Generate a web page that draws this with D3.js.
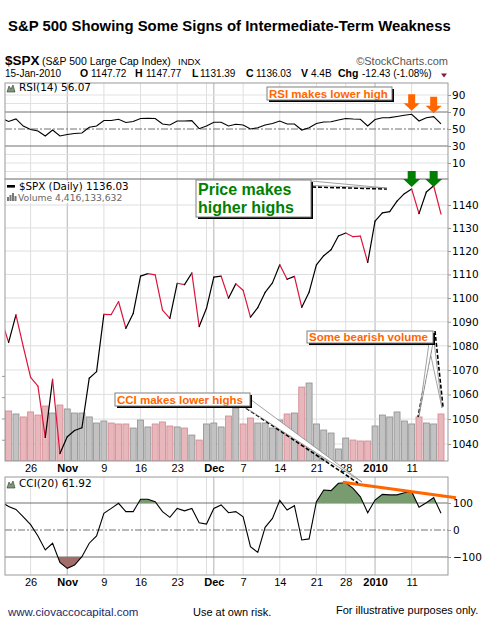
<!DOCTYPE html>
<html>
<head>
<meta charset="utf-8">
<script src="https://cdn.jsdelivr.net/npm/d3@7"></script>
<style>
  body { margin: 0; background: #fff; }
  svg { display: block; font-family: "Liberation Sans", Arial, sans-serif; }
  .pix { font-family: "DejaVu Sans", Verdana, sans-serif; }
  .axis text { font-family: "DejaVu Sans", Verdana, sans-serif; font-size: 10.5px; fill: #000; }
  .xaxis text { font-family: "Liberation Sans", Arial, sans-serif; font-size: 11px; fill: #000; }
</style>
</head>
<body>
<script>
// $SPX daily, 20-Oct-2009 .. 15-Jan-2010 (first day sits just off the left edge)
let days = ["Oct 20","Oct 21","Oct 22","Oct 23","Oct 26","Oct 27","Oct 28","Oct 29","Oct 30",
  "Nov 2","Nov 3","Nov 4","Nov 5","Nov 6","Nov 9","Nov 10","Nov 11","Nov 12","Nov 13",
  "Nov 16","Nov 17","Nov 18","Nov 19","Nov 20","Nov 23","Nov 24","Nov 25","Nov 27","Nov 30",
  "Dec 1","Dec 2","Dec 3","Dec 4","Dec 7","Dec 8","Dec 9","Dec 10","Dec 11","Dec 14","Dec 15",
  "Dec 16","Dec 17","Dec 18","Dec 21","Dec 22","Dec 23","Dec 24","Dec 28","Dec 29","Dec 30","Dec 31",
  "Jan 4","Jan 5","Jan 6","Jan 7","Jan 8","Jan 11","Jan 12","Jan 13","Jan 14","Jan 15"];

let closes = [1091.06, 1081.40, 1092.91, 1079.60, 1066.95, 1063.41, 1042.63, 1066.11, 1036.19,
  1042.88, 1045.41, 1046.50, 1066.63, 1069.30, 1093.08, 1093.01, 1098.51, 1087.24, 1093.48,
  1109.30, 1110.32, 1109.80, 1094.90, 1091.38, 1106.24, 1105.65, 1110.63, 1088.00, 1095.63,
  1108.86, 1109.24, 1099.92, 1105.98, 1103.25, 1091.94, 1095.95, 1102.35, 1106.41, 1114.11, 1107.93,
  1109.18, 1096.08, 1102.47, 1114.05, 1118.02, 1120.59, 1126.48, 1127.78, 1126.20, 1126.42, 1115.10,
  1132.99, 1136.52, 1137.14, 1141.69, 1144.98, 1146.98, 1136.22, 1145.68, 1148.46, 1136.03];

// 1 = down day (red line segment, pink volume bar)
let downDay = [1, 1, 0, 1, 1, 1, 1, 0, 1,
  0, 0, 0, 0, 0, 0, 1, 1, 1, 0,
  0, 0, 1, 1, 1, 0, 1, 0, 1, 0,
  0, 0, 1, 0, 1, 1, 0, 0, 0, 0, 1,
  0, 1, 0, 0, 0, 0, 0, 0, 1, 1, 1,
  0, 0, 0, 0, 0, 0, 1, 0, 0, 1];

// volume, billions of shares
let volumes = [4.9, 4.70, 4.42, 4.14, 4.61, 4.32, 5.17, 4.51, 5.26,
  4.89, 4.51, 4.51, 4.14, 3.57, 3.76, 3.57, 3.48, 3.48, 3.10,
  3.85, 3.20, 3.48, 3.67, 3.29, 3.20, 3.10, 2.44, 1.97, 3.48,
  3.57, 3.20, 4.23, 4.98, 3.48, 4.04, 3.57, 3.57, 3.10, 3.85, 4.42,
  4.51, 6.95, 7.33, 3.48, 2.91, 2.63, 1.13, 2.16, 1.97, 1.88, 1.88,
  3.29, 4.32, 4.14, 4.61, 3.76, 3.48, 4.14, 3.57, 3.48, 4.42];

let rsi = [62.9, 58.8, 61.8, 53.5, 49.4, 47.6, 41.8, 48.8, 41.8,
  43.5, 44.7, 45.3, 52.0, 53.5, 60.0, 60.0, 61.4, 57.6, 58.8,
  62.4, 62.6, 62.4, 55.9, 54.7, 59.4, 59.4, 59.8, 50.4, 53.5,
  57.9, 57.9, 53.5, 55.5, 54.7, 50.0, 51.5, 54.7, 56.5, 59.4, 55.9,
  55.9, 48.8, 51.5, 56.5, 58.2, 58.6, 60.6, 62.4, 61.8, 61.4, 53.5,
  61.2, 63.2, 63.4, 64.7, 66.1, 67.3, 59.4, 63.3, 64.5, 56.07];

let cci = [104, 87, 76, 49, 20, -22, -74, -49, -120,
  -142, -130, -99, -49, -22, 62, 80, 99, 68, 68,
  114, 114, 105, 68, 47, 80, 71, 80, 27, 22,
  80, 93, 64, 68, 49, -62, -83, 10, 43, 110, 74,
  90, -37, -33, 105, 148, 146, 173, 175, 154, 123, 64,
  111, 132, 130, 130, 138, 142, 84, 101, 120, 61.92];

// x axis: weekly grid, month starts darker
let gridDays = [4, 9, 14, 19, 24, 28, 29, 33, 38, 43, 47, 51, 56];
let monthDays = [9, 29, 51];
let tickDays = [4, 9, 14, 19, 24, 29, 33, 38, 43, 47, 51, 56];
let tickText = ["26", "Nov", "9", "16", "23", "Dec", "7", "14", "21", "28", "2010", "11"];
let boldTicks = ["Nov", "Dec", "2010"];

let priceTicks = [1040, 1050, 1060, 1070, 1080, 1090, 1100, 1110, 1120, 1130, 1140];
let rsiTicks = [90, 70, 50, 30, 10];
let cciTicks = [100, 0, -100];
let volTicks = [2, 4, 6, 8];

let quoteKeys = ["O", "H", "L", "C", "V", "Chg"];
let quoteVals = ["1147.72", "1147.77", "1131.39", "1136.03", "4.4B", "-12.43 (-1.08%)"];

// layout
let svgWidth = 488, svgHeight = 639;
let left = 5, right = 448;
let rsiTop = 83, rsiBottom = 179;
let priceTop = 179, priceBottom = 461;
let cciTop = 477, cciBottom = 575;

let svg = d3.select("body").append("svg")
    .attr("width", svgWidth)
    .attr("height", svgHeight);

let xScale = d3.scaleLinear().domain([0, closes.length - 1]).range([1.3, 441]);
let rsiScale = d3.scaleLinear().domain([0, 100]).range([171.5, 86.5]);
let priceScale = d3.scaleLog().domain([1040, 1140]).range([444, 205]);
let volScale = d3.scaleLinear().domain([0, 10]).range([priceBottom, priceBottom - 106.4]);
let cciScale = d3.scaleLinear().domain([-100, 100]).range([557, 503]);

let defs = svg.append("defs");
function clip(id, y0, y1) {
    defs.append("clipPath").attr("id", id)
        .append("rect").attr("x", left).attr("y", y0)
        .attr("width", right - left).attr("height", y1 - y0);
}
clip("clipRsi", rsiTop, rsiBottom);
clip("clipPrice", priceTop, priceBottom);
clip("clipCci", cciTop, cciBottom);
clip("clipCciUp", cciTop, cciScale(100));
clip("clipCciDown", cciScale(-100), cciBottom);

// ---------- header ----------
svg.append("text").attr("x", 8).attr("y", 31)
    .attr("font-size", "14.9px").attr("font-weight", "bold")
    .text("S&P 500 Showing Some Signs of Intermediate-Term Weakness");

svg.append("text").attr("x", 5).attr("y", 65)
    .attr("font-size", "13.5px").attr("font-weight", "bold").text("$SPX");
svg.append("text").attr("x", 42).attr("y", 65)
    .attr("font-size", "10.5px").text("(S&P 500 Large Cap Index)");
svg.append("text").attr("x", 178).attr("y", 65)
    .attr("font-size", "9.5px").text("INDX");
svg.append("text").attr("x", right).attr("y", 65).attr("text-anchor", "end")
    .attr("font-size", "11px").attr("fill", "#555").text("\u00A9StockCharts.com");

let quoteX = [[80, 91], [135, 146], [192, 200], [246, 256], [301, 311], [338, 362]];
let qLine = svg.append("g").attr("font-size", "10px");
qLine.append("text").attr("x", 5).attr("y", 77).text("15-Jan-2010");
quoteKeys.forEach(function(k, i) {
    qLine.append("text").attr("x", quoteX[i][0]).attr("y", 77)
        .attr("font-weight", "bold").attr("font-size", "10.5px").text(k);
    qLine.append("text").attr("x", quoteX[i][1]).attr("y", 77).text(quoteVals[i]);
});
svg.append("path").attr("d", "M441,73.5 L447,73.5 L444,77.5 Z").attr("fill", "#8b1a3a");

// ---------- vertical grid (all panels) ----------
[[rsiTop, rsiBottom], [priceTop, priceBottom], [cciTop, cciBottom]].forEach(function(p) {
    svg.append("g").selectAll("line")
        .data(gridDays)
        .enter()
        .append("line")
        .attr("x1", d => xScale(d)).attr("x2", d => xScale(d))
        .attr("y1", p[0]).attr("y2", p[1])
        .attr("stroke", d => monthDays.includes(d) ? "#b4b4b4" : "#dedede")
        .attr("stroke-width", 1);
});

// ---------- RSI panel ----------
let rsiG = svg.append("g");
rsiG.selectAll(".rgrid").data([90, 80, 20, 10, 0]).enter().append("line")
    .attr("x1", left).attr("x2", right)
    .attr("y1", d => rsiScale(d)).attr("y2", d => rsiScale(d))
    .attr("stroke", "#e2e2e2");
rsiG.selectAll(".rlev").data([70, 30]).enter().append("line")
    .attr("x1", left).attr("x2", right)
    .attr("y1", d => rsiScale(d)).attr("y2", d => rsiScale(d))
    .attr("stroke", "#707070");
rsiG.append("line").attr("x1", left).attr("x2", right)
    .attr("y1", rsiScale(50)).attr("y2", rsiScale(50))
    .attr("stroke", "#707070").attr("stroke-dasharray", "7,2,2,2");
rsiG.append("path")
    .datum(rsi)
    .attr("clip-path", "url(#clipRsi)")
    .attr("fill", "none").attr("stroke", "#000").attr("stroke-width", 1.1)
    .attr("d", d3.line().x((d, i) => xScale(i)).y(d => rsiScale(d)));
rsiG.append("rect").attr("x", left).attr("y", rsiTop)
    .attr("width", right - left).attr("height", rsiBottom - rsiTop)
    .attr("fill", "none").attr("stroke", "#999");
svg.append("g").attr("class", "axis")
    .attr("transform", `translate(${right},0)`)
    .call(d3.axisRight(rsiScale).tickValues(rsiTicks).tickSize(3).tickPadding(1))
    .call(g => g.select(".domain").remove())
    .call(g => g.selectAll("line").attr("stroke", "#999"));

// ---------- price panel ----------
let priceG = svg.append("g");
priceG.selectAll(".pgrid").data(priceTicks).enter().append("line")
    .attr("x1", left).attr("x2", right)
    .attr("y1", d => priceScale(d)).attr("y2", d => priceScale(d))
    .attr("stroke", "#dedede");

priceG.append("g").attr("clip-path", "url(#clipPrice)")
    .selectAll("rect")
    .data(volumes)
    .enter()
    .append("rect")
    .attr("x", (d, i) => xScale(i) - 3)
    .attr("y", d => volScale(d))
    .attr("width", 6)
    .attr("height", d => priceBottom - volScale(d))
    .attr("fill", (d, i) => downDay[i] ? "#e8b7bb" : "#c2c2c2")
    .attr("stroke", (d, i) => downDay[i] ? "#d4858f" : "#8e8e8e")
    .attr("stroke-width", 0.8);

let segLine = d3.line();
priceG.append("g").attr("clip-path", "url(#clipPrice)")
    .selectAll("path")
    .data(d3.range(1, closes.length))
    .enter()
    .append("path")
    .attr("d", i => segLine([[xScale(i - 1), priceScale(closes[i - 1])], [xScale(i), priceScale(closes[i])]]))
    .attr("fill", "none")
    .attr("stroke", i => downDay[i] ? "#dc143c" : "#000")
    .attr("stroke-width", 1.2)
    .attr("stroke-linecap", "round");

priceG.append("rect").attr("x", left).attr("y", priceTop)
    .attr("width", right - left).attr("height", priceBottom - priceTop)
    .attr("fill", "none").attr("stroke", "#999");
svg.append("g").attr("class", "axis")
    .attr("transform", `translate(${right},0)`)
    .call(d3.axisRight(priceScale).tickValues(priceTicks).tickSize(3).tickPadding(1).tickFormat(d3.format("d")))
    .call(g => g.select(".domain").remove())
    .call(g => g.selectAll("line").attr("stroke", "#999"));
svg.append("g")
    .attr("transform", `translate(${left},0)`)
    .call(d3.axisLeft(volScale).tickValues(volTicks).tickSize(3).tickFormat(""))
    .call(g => g.select(".domain").remove())
    .call(g => g.selectAll("line").attr("stroke", "#999"));

// legends
priceG.append("rect").attr("x", 6).attr("y", 181).attr("width", 130).attr("height", 22).attr("fill", "#fff");
priceG.append("rect").attr("x", 7).attr("y", 185).attr("width", 8).attr("height", 2.6).attr("fill", "#000");
priceG.append("text").attr("class", "pix").attr("x", 19).attr("y", 190)
    .attr("font-size", "10.3px").text("$SPX (Daily) 1136.03");
[[7, 4], [9.5, 6], [12, 8], [14.5, 5]].forEach(function(b) {
    priceG.append("rect").attr("x", b[0]).attr("y", 201 - b[1]).attr("width", 2)
        .attr("height", b[1]).attr("fill", "#777");
});
priceG.append("text").attr("class", "pix").attr("x", 18).attr("y", 201)
    .attr("font-size", "9.2px").attr("fill", "#666").text("Volume 4,416,133,632");

rsiG.append("path").attr("d", "M7,92 L9,86 L11,89 L13,85 L15,92 Z").attr("fill", "#7a9c72").attr("stroke", "#333").attr("stroke-width", 0.6);
rsiG.append("text").attr("class", "pix").attr("x", 19).attr("y", 91)
    .attr("font-size", "10.5px").text("RSI(14) 56.07");

// ---------- x axis rows ----------
function xAxisRow(y) {
    svg.append("g").attr("class", "xaxis")
        .attr("transform", `translate(0,${y})`)
        .call(d3.axisBottom(xScale).tickValues(tickDays).tickSize(0).tickPadding(3.5)
            .tickFormat((d, i) => tickText[i]))
        .call(g => g.select(".domain").remove())
        .call(g => g.selectAll("text")
            .attr("font-weight", (d, i) => boldTicks.includes(tickText[i]) ? "bold" : "normal"));
}
xAxisRow(priceBottom);
xAxisRow(cciBottom);

// ---------- CCI panel ----------
let cciG = svg.append("g");
cciG.selectAll(".clev").data([100, -100]).enter().append("line")
    .attr("x1", left).attr("x2", right)
    .attr("y1", d => cciScale(d)).attr("y2", d => cciScale(d))
    .attr("stroke", "#707070");
cciG.append("line").attr("x1", left).attr("x2", right)
    .attr("y1", cciScale(0)).attr("y2", cciScale(0))
    .attr("stroke", "#707070").attr("stroke-dasharray", "7,2,2,2");
cciG.append("g").attr("clip-path", "url(#clipCci)")
    .append("path").datum(cci)
    .attr("clip-path", "url(#clipCciUp)")
    .attr("fill", "#789c70")
    .attr("d", d3.area().x((d, i) => xScale(i)).y0(cciScale(100)).y1(d => cciScale(d)));
cciG.append("g").attr("clip-path", "url(#clipCci)")
    .append("path").datum(cci)
    .attr("clip-path", "url(#clipCciDown)")
    .attr("fill", "#a46c68")
    .attr("d", d3.area().x((d, i) => xScale(i)).y0(cciScale(-100)).y1(d => cciScale(d)));
cciG.append("path").datum(cci)
    .attr("clip-path", "url(#clipCci)")
    .attr("fill", "none").attr("stroke", "#000").attr("stroke-width", 1.1)
    .attr("d", d3.line().x((d, i) => xScale(i)).y(d => cciScale(d)));
cciG.append("rect").attr("x", left).attr("y", cciTop)
    .attr("width", right - left).attr("height", cciBottom - cciTop)
    .attr("fill", "none").attr("stroke", "#999");
svg.append("g").attr("class", "axis")
    .attr("transform", `translate(${right},0)`)
    .call(d3.axisRight(cciScale).tickValues(cciTicks).tickSize(3).tickPadding(2))
    .call(g => g.select(".domain").remove())
    .call(g => g.selectAll("line").attr("stroke", "#999"));
cciG.append("path").attr("d", "M7,488 L9,482 L11,485 L13,481 L15,488 Z").attr("fill", "#7a9c72").attr("stroke", "#333").attr("stroke-width", 0.6);
cciG.append("text").attr("class", "pix").attr("x", 19).attr("y", 487)
    .attr("font-size", "10.5px").text("CCI(20) 61.92");

// orange CCI trendline through the Dec 28 and Jan 11 peaks
let slope = (cciScale(cci[56]) - cciScale(cci[47])) / (xScale(56) - xScale(47));
svg.append("line")
    .attr("x1", xScale(47) - 3).attr("y1", cciScale(cci[47]) - 3 * slope)
    .attr("x2", 456).attr("y2", cciScale(cci[47]) + (456 - xScale(47)) * slope)
    .attr("stroke", "#ff6600").attr("stroke-width", 3);

// ---------- annotations ----------
let notes = svg.append("g");
function box(x, y, w, h) {
    notes.append("rect").attr("x", x + 2).attr("y", y + 2).attr("width", w).attr("height", h).attr("fill", "#000");
    notes.append("rect").attr("x", x).attr("y", y).attr("width", w).attr("height", h)
        .attr("fill", "#fff").attr("stroke", "#808080");
}
function pointer(pts, shadow) {
    if (shadow) {
        notes.append("path").attr("d", "M" + shadow.join("L"))
            .attr("stroke", "#000").attr("stroke-width", 1.6)
            .attr("stroke-dasharray", "4,2").attr("fill", "none");
    }
    notes.append("path").attr("d", "M" + pts.join("L") + "Z")
        .attr("fill", "#fff").attr("stroke", "#8a8a8a").attr("stroke-width", 0.8);
}
function downArrow(cx, top, tip, shaftHalf, headHalf, headLen, color) {
    let h = tip - headLen;
    notes.append("path")
        .attr("d", `M${cx - shaftHalf},${top} L${cx + shaftHalf},${top} L${cx + shaftHalf},${h}
                    L${cx + headHalf},${h} L${cx},${tip} L${cx - headHalf},${h} L${cx - shaftHalf},${h} Z`)
        .attr("fill", color);
}

// Price makes higher highs
pointer([[300, 180], [387, 188], [312, 185.5]], [[312, 187], [387, 189]]);
box(196, 180, 115, 37);
notes.append("text").attr("x", 198).attr("y", 195)
    .attr("font-size", "16px").attr("font-weight", "bold").attr("fill", "#008000").text("Price makes");
notes.append("text").attr("x", 198).attr("y", 213)
    .attr("font-size", "16px").attr("font-weight", "bold").attr("fill", "#008000").text("higher highs");
[56, 59].forEach(function(i) {
    downArrow(xScale(i), 171, 187, 4, 8.5, 8, "#008000");
});

// RSI makes lower high
box(267, 87, 125, 13);
notes.append("text").attr("x", 269).attr("y", 97.5)
    .attr("font-size", "11.5px").attr("font-weight", "bold").attr("fill", "#ff6600").text("RSI makes lower high");
[56, 59].forEach(function(i) {
    let tip = rsiScale(rsi[i]) - 3.5;
    downArrow(xScale(i), tip - 16.5, tip, 3.5, 8, 7.5, "#ff6600");
});

// CCI makes lower highs
pointer([[243, 406], [250, 399], [362, 482]], [[246, 408], [358, 483]]);
box(115, 393, 135, 13);
notes.append("text").attr("x", 117).attr("y", 403.5)
    .attr("font-size", "11.5px").attr("font-weight", "bold").attr("fill", "#ff6600").text("CCI makes lower highs");

// Some bearish volume
pointer([[428, 342], [433, 333], [xScale(60) + 1, volScale(volumes[60]) - 6]], [[435, 331], [xScale(60) + 2, volScale(volumes[60]) - 7]]);
pointer([[429, 343], [433, 343], [xScale(57), volScale(volumes[57]) - 1]], [[431, 350], [xScale(57) - 1, volScale(volumes[57])]]);
box(307, 331, 126, 12);
notes.append("text").attr("x", 309).attr("y", 341)
    .attr("font-size", "11.5px").attr("font-weight", "bold").attr("fill", "#ff6600").text("Some bearish volume");

// ---------- footer ----------
svg.append("text").attr("x", 8).attr("y", 616).attr("font-size", "11.5px")
    .attr("fill", "#1c2a66").text("www.ciovaccocapital.com");
svg.append("text").attr("x", 193).attr("y", 616).attr("font-size", "11px")
    .text("Use at own risk.");
svg.append("text").attr("x", 336).attr("y", 614).attr("font-size", "11px")
    .text("For illustrative purposes only.");
</script>
</body>
</html>
